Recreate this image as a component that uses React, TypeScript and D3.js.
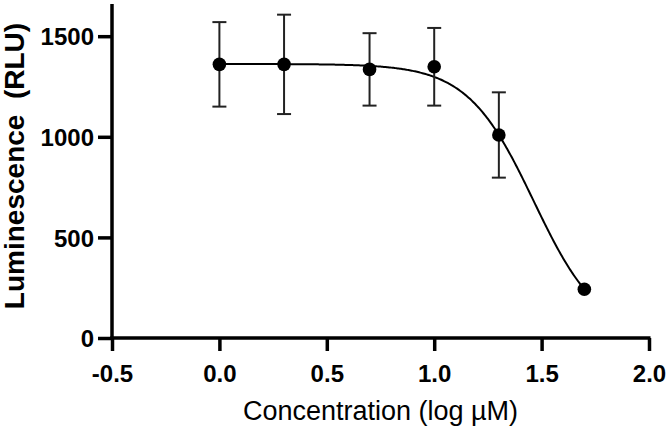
import React, { useEffect, useRef } from 'react';
import * as d3 from 'd3';

// log concentrations and measured luminescence (mean ± SD)
const logConc = [0, 0.301, 0.699, 1.0, 1.301, 1.699];
const meanRLU = [1360, 1360, 1335, 1348, 1009, 242];
const sdRLU = [210, 247, 180, 193, 212, 20];

const xTicks = [-0.5, 0, 0.5, 1.0, 1.5, 2.0];
const yTicks = [0, 500, 1000, 1500];

// four-parameter logistic fit
const fitTop = 1362;
const fitBottom = 0;
const fitLogIC50 = 1.463;
const fitHill = 2.817;

const WIDTH = 669;
const HEIGHT = 429;
const FONT = '"Liberation Sans", Arial, Helvetica, sans-serif';
const R = 6.8;

export default function App() {
  const svgRef = useRef<SVGSVGElement>(null);

  useEffect(() => {
    if (!svgRef.current) return;
    const svg = d3.select(svgRef.current);
    svg.selectAll('*').remove();

    const x = d3.scaleLinear().domain([-0.5, 2.0]).range([112, 649]);
    const y = d3.scaleLinear().domain([0, 1660]).range([338, 4]);

    const g = svg.append('g');

    // fitted curve
    const curveX = d3.range(0, 1.7 + 1e-9, 0.005);
    const model = (v: number) =>
      fitBottom + (fitTop - fitBottom) / (1 + Math.pow(10, (v - fitLogIC50) * fitHill));
    const line = d3
      .line<number>()
      .x((d) => x(d))
      .y((d) => y(model(d)));
    g.append('path')
      .datum(curveX)
      .attr('fill', 'none')
      .attr('stroke', '#000')
      .attr('stroke-width', 2)
      .attr('d', line);

    // error bars, hidden when shorter than the symbol
    const idx = logConc
      .map((_d, i) => i)
      .filter((i) => y(meanRLU[i] - sdRLU[i]) - y(meanRLU[i]) > R);
    const bars = g
      .selectAll('g.err')
      .data(idx)
      .enter()
      .append('g')
      .attr('class', 'err')
      .attr('stroke', '#222')
      .attr('stroke-width', 2);
    bars
      .append('line')
      .attr('x1', (i) => x(logConc[i]))
      .attr('x2', (i) => x(logConc[i]))
      .attr('y1', (i) => y(meanRLU[i] + sdRLU[i]))
      .attr('y2', (i) => y(meanRLU[i] - sdRLU[i]));
    [1, -1].forEach((s) => {
      bars
        .append('line')
        .attr('x1', (i) => x(logConc[i]) - 7)
        .attr('x2', (i) => x(logConc[i]) + 7)
        .attr('y1', (i) => y(meanRLU[i] + s * sdRLU[i]))
        .attr('y2', (i) => y(meanRLU[i] + s * sdRLU[i]));
    });

    // points
    g.selectAll('circle')
      .data(logConc)
      .enter()
      .append('circle')
      .attr('cx', (d) => x(d))
      .attr('cy', (_d, i) => y(meanRLU[i]))
      .attr('r', R)
      .attr('fill', '#000');

    // x axis
    const xAxis = svg
      .append('g')
      .attr('transform', `translate(0,${y(0)})`)
      .call(
        d3
          .axisBottom(x)
          .tickValues(xTicks)
          .tickSize(13)
          .tickSizeOuter(0)
          .tickFormat((d) => (d as number).toFixed(1))
      );
    xAxis.select('.domain').attr('stroke', '#000').attr('stroke-width', 3.5).attr('d', `M${x(-0.5) - 1.75},0H${x(2.0) + 1.5}`);
    xAxis.selectAll('.tick line').attr('stroke', '#000').attr('stroke-width', 3.5);
    xAxis
      .selectAll('.tick text')
      .attr('fill', '#000')
      .attr('font-family', FONT)
      .attr('font-size', 24)
      .attr('font-weight', 'bold')
      .attr('dy', null)
      .attr('y', 44);

    // y axis
    const yAxis = svg
      .append('g')
      .attr('transform', `translate(${x(-0.5)},0)`)
      .call(
        d3
          .axisLeft(y)
          .tickValues(yTicks)
          .tickSize(14)
          .tickSizeOuter(0)
          .tickFormat((d) => String(d))
      );
    yAxis.select('.domain').attr('stroke', '#000').attr('stroke-width', 3.5).attr('d', `M0,${y(1660)}V${y(0)}`);
    yAxis.selectAll('.tick line').attr('stroke', '#000').attr('stroke-width', 3.5);
    yAxis
      .selectAll('.tick text')
      .attr('fill', '#000')
      .attr('font-family', FONT)
      .attr('font-size', 24)
      .attr('font-weight', 'bold')
      .attr('x', -18)
      .attr('dy', '0.36em');

    // axis titles
    svg
      .append('text')
      .attr('x', (x(-0.5) + x(2.0)) / 2)
      .attr('y', 420)
      .attr('text-anchor', 'middle')
      .attr('font-family', FONT)
      .attr('font-size', 27)
      .attr('fill', '#000')
      .text('Concentration (log µM)');

    svg
      .append('text')
      .attr('transform', `translate(24,166) rotate(-90)`)
      .attr('text-anchor', 'middle')
      .attr('font-family', FONT)
      .attr('font-size', 28)
      .attr('font-weight', 'bold')
      .attr('fill', '#000')
      .style('white-space', 'pre')
      .text('Luminescence  (RLU)');
  }, []);

  return (
    <svg
      ref={svgRef}
      width={WIDTH}
      height={HEIGHT}
      style={{ position: 'absolute', left: 0, top: 0, background: '#fff' }}
    />
  );
}
